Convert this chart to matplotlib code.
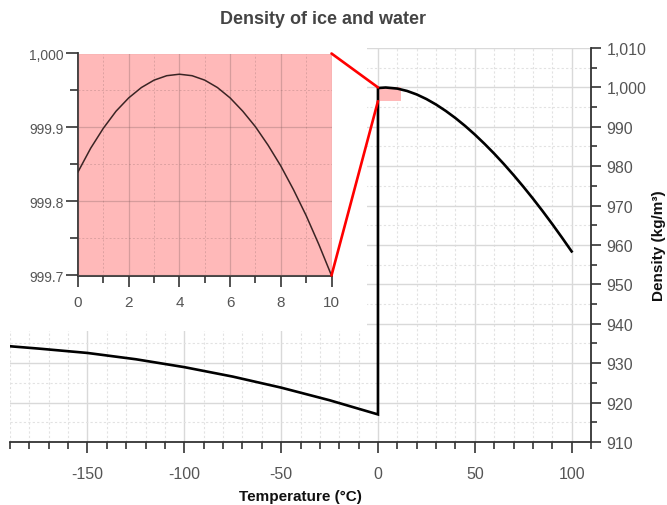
import matplotlib
matplotlib.use("Agg")
import matplotlib.pyplot as plt
from matplotlib.ticker import MultipleLocator, FuncFormatter
from matplotlib.patches import Rectangle, ConnectionPatch

plt.rcParams['font.family'] = ['Liberation Sans', 'DejaVu Sans']

# Ice (solid phase) density, kg/m3
ice_temp = [-190, -175, -150, -125, -100, -75, -50, -25, 0]
ice_density = [934.3, 933.7, 932.6, 931.0, 929.0, 926.6, 923.8, 920.6, 917.0]

# Liquid water density, kg/m3
water_temp = [0, 4, 10, 15, 20, 25, 30, 35, 40, 45, 50, 55, 60, 65, 70, 75,
              80, 85, 90, 95, 100]
water_density = [999.84, 999.97, 999.70, 999.10, 998.21, 997.05, 995.65,
                 994.03, 992.22, 990.22, 988.04, 985.69, 983.20, 980.55,
                 977.76, 974.84, 971.79, 968.61, 965.31, 961.89, 958.37]

# Detail of the 0-10 degC range
detail_temp = [0, 0.5, 1, 1.5, 2, 2.5, 3, 3.5, 4, 4.5, 5, 5.5, 6, 6.5, 7,
               7.5, 8, 8.5, 9, 9.5, 10]
detail_density = [999.840, 999.872, 999.899, 999.922, 999.940, 999.954,
                  999.964, 999.970, 999.972, 999.970, 999.964, 999.954,
                  999.940, 999.922, 999.901, 999.876, 999.848, 999.816,
                  999.781, 999.742, 999.700]

PINK = '#ffb9b9'
TICK_GRAY = '#555555'
SPINE = '#333333'

W, H = 667, 506
fig = plt.figure(figsize=(W / 100, H / 100), dpi=100)


def fx(px):
    return px / W


def fy(py):
    return 1 - py / H


# ---- main axes -------------------------------------------------------
ax = fig.add_axes([fx(10), fy(443), fx(591) - fx(10), fy(49) - fy(443)])
ax.set_zorder(0)
ax.plot(ice_temp + water_temp, ice_density + water_density,
        color='black', lw=1.9, solid_joinstyle='miter', zorder=3)
ax.add_patch(Rectangle((0, 996.5), 12, 3.5, facecolor=PINK,
                       edgecolor='none', zorder=2))

ax.set_xlim(-190, 110)
ax.set_ylim(910, 1010)
ax.xaxis.set_major_locator(MultipleLocator(50))
ax.xaxis.set_minor_locator(MultipleLocator(10))
ax.yaxis.set_major_locator(MultipleLocator(10))
ax.yaxis.set_minor_locator(MultipleLocator(5))
ax.yaxis.set_major_formatter(FuncFormatter(lambda v, p: f'{v:,.0f}'))
ax.xaxis.set_major_formatter(FuncFormatter(lambda v, p: f'{v:.0f}'))
ax.yaxis.tick_right()
ax.yaxis.set_label_position('right')

for s in ('left', 'top'):
    ax.spines[s].set_visible(False)
for s in ('right', 'bottom'):
    ax.spines[s].set_color(SPINE)
    ax.spines[s].set_linewidth(1.3)

ax.tick_params(axis='x', which='major', length=8, width=1.2, color=SPINE,
               labelsize=11.5, labelcolor=TICK_GRAY, pad=9)
ax.tick_params(axis='x', which='minor', length=5, width=1.2, color=SPINE)
ax.tick_params(axis='y', which='major', length=7, width=1.2, color=SPINE,
               labelsize=11.5, labelcolor=TICK_GRAY, pad=4)
ax.tick_params(axis='y', which='minor', length=4, width=1.2, color=SPINE)

ax.grid(which='major', color='#d9d9d9', lw=1.0, ls='-', zorder=0)
ax.grid(which='minor', color='#e2e2e2', lw=0.8, ls=(0, (2, 2)), zorder=0)
ax.set_axisbelow(True)

ax.set_xlabel('Temperature (°C)', fontsize=11, fontweight='bold',
              color='#111111', labelpad=6)
ax.set_ylabel('Density (kg/m³)', fontsize=11, fontweight='bold',
              color='#111111', labelpad=4)

# white panel behind the detail view
fig.add_artist(Rectangle((0, fy(332)), fx(367), fy(40) - fy(332),
                         transform=fig.transFigure, facecolor='white',
                         edgecolor='none', zorder=1))

# ---- detail axes -----------------------------------------------------
ins = fig.add_axes([fx(78), fy(276.5), fx(331.5) - fx(78),
                    fy(54.5) - fy(276.5)])
ins.set_zorder(2)
ins.patch.set_alpha(0)
ins.add_patch(Rectangle((0, 999.7), 10, 0.3, facecolor=PINK,
                        edgecolor='none', zorder=0.5))
ins.plot(detail_temp, detail_density, color='#3a2424', lw=1.1, zorder=3)
ins.set_xlim(0, 10)
ins.set_ylim(999.7, 1000.0)
ins.xaxis.set_major_locator(MultipleLocator(2))
ins.xaxis.set_minor_locator(MultipleLocator(1))
ins.yaxis.set_major_locator(MultipleLocator(0.1))
ins.yaxis.set_minor_locator(MultipleLocator(0.05))
ins.yaxis.set_major_formatter(FuncFormatter(
    lambda v, p: '1,000' if abs(v - 1000) < 1e-6 else f'{v:.1f}'))
ins.xaxis.set_major_formatter(FuncFormatter(lambda v, p: f'{v:.0f}'))
for s in ('right', 'top'):
    ins.spines[s].set_visible(False)
for s in ('left', 'bottom'):
    ins.spines[s].set_color(SPINE)
    ins.spines[s].set_linewidth(1.3)
ins.tick_params(axis='x', which='major', length=8, width=1.2, color=SPINE,
                labelsize=11, labelcolor=TICK_GRAY, pad=6)
ins.tick_params(axis='x', which='minor', length=5, width=1.2, color=SPINE)
ins.tick_params(axis='y', which='major', length=9, width=1.2, color=SPINE,
                labelsize=10, labelcolor=TICK_GRAY, pad=1)
ins.tick_params(axis='y', which='minor', length=6, width=1.2, color=SPINE)
ins.grid(which='major', color='#7a5a5a', alpha=0.3, lw=0.9, ls='-',
         zorder=1)
ins.grid(which='minor', color='#7a5a5a', alpha=0.25, lw=0.7,
         ls=(0, (2, 2)), zorder=1)
ins.set_axisbelow(False)

# connector lines from the detail view to the highlighted region
for (xa, ya), (xb, yb) in (((10, 1000.0), (0, 1000.0)),
                           ((10, 999.7), (0, 996.5))):
    con = ConnectionPatch(xyA=(xa, ya), coordsA=ins.transData,
                          xyB=(xb, yb), coordsB=ax.transData,
                          color='#ff0000', lw=1.9, zorder=5)
    fig.add_artist(con)

fig.text(fx(323), fy(20), 'Density of ice and water', ha='center',
         va='center', fontsize=13, fontweight='bold', color='#444444',
         zorder=6)

fig.savefig('out.png', dpi=100)
